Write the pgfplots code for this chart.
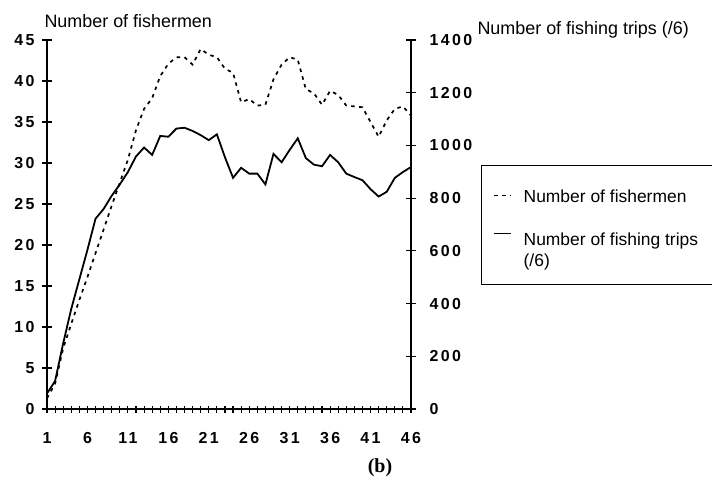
\documentclass[border=0pt]{standalone}
\usepackage{pgfplots}
\usepackage{pgfplotstable}
\pgfplotsset{compat=1.18}
\usepackage{fontspec}
\setmainfont{Liberation Sans}
\newfontfamily\tickfont{Liberation Sans}[LetterSpace=15]
\newfontfamily\labfont{Liberation Sans}
\newfontfamily\capfont{Liberation Serif}

\pgfplotstableread{
i f
1 1.3
2 3.1
3 7.4
4 10.4
5 13.3
6 16.1
7 19.0
8 21.9
9 24.8
10 27.6
11 30.4
12 34.0
13 36.6
14 37.9
15 40.6
16 42.1
17 42.9
18 42.9
19 42.0
20 43.9
21 43.2
22 42.9
23 41.5
24 41.0
25 37.4
26 37.8
27 37.0
28 37.1
29 40.2
30 42.0
31 42.9
32 42.6
33 39.0
34 38.5
35 37.1
36 38.8
37 38.3
38 37.0
39 36.9
40 36.8
41 35.0
42 33.2
43 35.2
44 36.6
45 36.9
46 35.8
}\fishtable

\pgfplotstableread{
i t
1 59
2 106
3 249
4 380
5 492
6 604
7 722
8 759
9 809
10 852
11 899
12 958
13 992
14 964
15 1036
16 1033
17 1064
18 1067
19 1055
20 1039
21 1020
22 1042
23 955
24 877
25 915
26 893
27 893
28 852
29 968
30 936
31 983
32 1027
33 952
34 927
35 921
36 964
37 936
38 893
39 880
40 868
41 834
42 806
43 824
44 877
45 899
46 918
}\triptable

\pgfplotsset{
  base/.style={
    scale only axis, width=364bp, height=369bp,
    at={(47bp,84bp)}, anchor=south west,
    xmin=1, xmax=46,
    tick align=center,
    major tick length=10bp,
    minor tick length=7bp,
    axis line style={line width=1.3bp},
    every tick/.style={black, line width=1.1bp},
    /pgf/number format/assume math mode=true,
    /pgf/number format/1000 sep={},
    ticklabel style={font=\tickfont\bfseries\fontsize{16}{19}\selectfont},
  },
  fishstyle/.style={black, line width=1.7bp, dash pattern=on 3.5bp off 4.5bp},
  tripstyle/.style={black, line width=1.8bp},
}

\begin{document}
\begin{tikzpicture}
\path[use as bounding box] (0,0) rectangle (712bp,493bp);

\begin{axis}[base,
  axis y line*=left, axis x line*=bottom,
  ymin=0, ymax=45, ytick={0,5,...,45},
  xtick={1,6,...,46}, minor xtick={1,...,46},
  major x tick style={draw=none},
  xticklabel style={yshift=-15bp},
  yticklabel style={xshift=-4bp},
]
\addplot[fishstyle] table[x=i, y=f] {\fishtable};
\end{axis}

\begin{axis}[base,
  axis y line*=right, axis x line=none,
  ymin=0, ymax=1400, ytick={0,200,...,1400},
  yticklabel style={xshift=10bp},
  legend cell align=left,
  legend image code/.code={\draw[#1] (0bp,0bp) -- (17bp,0bp);},
  legend style={at={(1.192,0.661)}, anchor=north west,
    draw=black, line width=1.2bp,
    inner xsep=12bp, inner ysep=24bp,
    row sep=31bp,
    font=\labfont\fontsize{17.5}{21}\selectfont,
    nodes={inner sep=0pt},
    /tikz/every odd column/.append style={column sep=12bp}},
]
\addlegendimage{fishstyle, line width=1.2bp}
\addlegendentry{\parbox{190bp}{\raggedright Number of fishermen}}
\addplot[tripstyle, legend image post style={yshift=13bp, line width=1.2bp}] table[x=i, y=t] {\triptable};
\addlegendentry{\parbox{190bp}{\raggedright Number of fishing trips\\(/6)\rule[-10bp]{0pt}{10bp}}}
\end{axis}

\node[anchor=west, font=\labfont\fontsize{18}{20}\selectfont] at (41bp,472bp) {Number of fishermen};
\node[anchor=west, font=\labfont\fontsize{18}{20}\selectfont] at (474bp,463bp) {Number of fishing trips (/6)};
\node[font=\capfont\bfseries\fontsize{20}{22}\selectfont] at (380bp,25bp) {(b)};
\end{tikzpicture}
\end{document}
